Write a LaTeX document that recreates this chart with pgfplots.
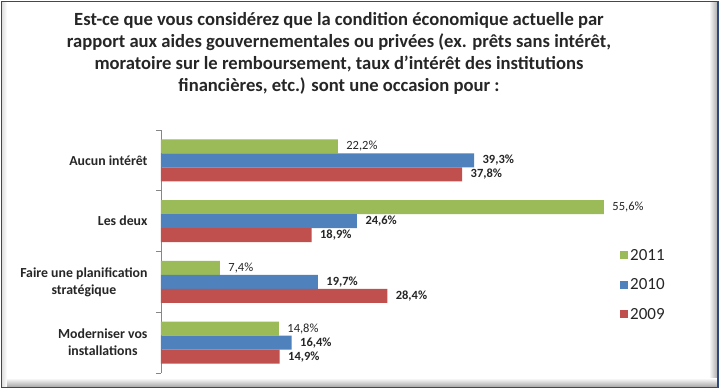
\documentclass[border=0pt]{standalone}
\usepackage{pgfplots}
\pgfplotsset{compat=1.18}
\usepackage{fontspec}
\setmainfont{Carlito}
\definecolor{cgreen}{HTML}{9BBB59}
\definecolor{cblue}{HTML}{4F81BD}
\definecolor{cred}{HTML}{C0504D}
\definecolor{frame}{HTML}{2E4A7D}
\definecolor{axgray}{HTML}{868686}
\begin{document}
\begin{tikzpicture}[x=1pt,y=1pt]
\useasboundingbox (-161,373) rectangle (559,-16);
\fill[white] (-161,373) rectangle (559,-16);
% shadows
\shade[left color=white, right color=gray!70] (548,371) rectangle (557,-14);
\shade[top color=white, bottom color=gray!70] (-159,-5) rectangle (557,-14);
\shade[left color=gray!25, right color=white] (-159,371) rectangle (-154,-14);
\draw[frame, line width=1.5pt] (-159.5,371.5) rectangle (557,-14.5);
\node[align=center, font=\fontsize{18.6}{22}\selectfont\bfseries, text=black!85] at (178,320)
{Est-ce que vous considérez que la condition économique actuelle par\\
rapport aux aides gouvernementales ou privées (ex. prêts sans intérêt,\\
moratoire sur le remboursement, taux d’intérêt des institutions\\
financières, etc.) sont une occasion pour :};
\begin{axis}[
  at={(0,0)}, anchor=south west,
  scale only axis, width=478pt, height=243pt,
  xbar, bar width=14pt,
  xmin=0, xmax=60, ymin=-0.5, ymax=3.5,
  axis x line=none,
  axis y line*=left,
  y axis line style={axgray, line width=0.8pt},
  ytick={0,1,2,3},
  yticklabels={{Moderniser vos\\installations},{Faire une planification\\stratégique},{Les deux},{Aucun intérêt}},
  major tick length=0pt,
  minor ytick={-0.5,0.5,1.5,2.5,3.5},
  minor tick length=5pt,
  tick align=outside,
  minor tick style={axgray, line width=0.8pt},
  yticklabel style={align=center, font=\fontsize{13.8}{17}\selectfont\bfseries, text=black!85, xshift=-10pt},
  /pgf/number format/assume math mode=true,
  nodes near coords={\pgfmathprintnumber[fixed,fixed zerofill,precision=1,use comma,assume math mode=true]{\pgfplotspointmeta}\%},
  every node near coord/.append style={anchor=west, xshift=5pt, font=\fontsize{12.5}{13}\selectfont, text=black!85},
  legend style={at={(0.954,0.527)}, anchor=north west, draw=none, fill=none,
    font=\fontsize{17}{18}\selectfont, row sep=13pt, text=black!85},
  legend cell align=left,
  legend image code/.code={\fill[#1] (0pt,-4pt) rectangle (8pt,4pt);},
]
\addplot[draw=none, fill=cgreen, bar shift=14pt] coordinates {(22.2,3) (55.6,2) (7.4,1) (14.8,0)};
\addlegendentry{2011}
\addplot[draw=none, fill=cblue, bar shift=0pt, every node near coord/.append style={font=\fontsize{12.5}{13}\selectfont\bfseries}] coordinates {(39.3,3) (24.6,2) (19.7,1) (16.4,0)};
\addlegendentry{2010}
\addplot[draw=none, fill=cred, bar shift=-14pt, every node near coord/.append style={font=\fontsize{12.5}{13}\selectfont\bfseries}] coordinates {(37.8,3) (18.9,2) (28.4,1) (14.9,0)};
\addlegendentry{2009}
\end{axis}
\end{tikzpicture}
\end{document}
